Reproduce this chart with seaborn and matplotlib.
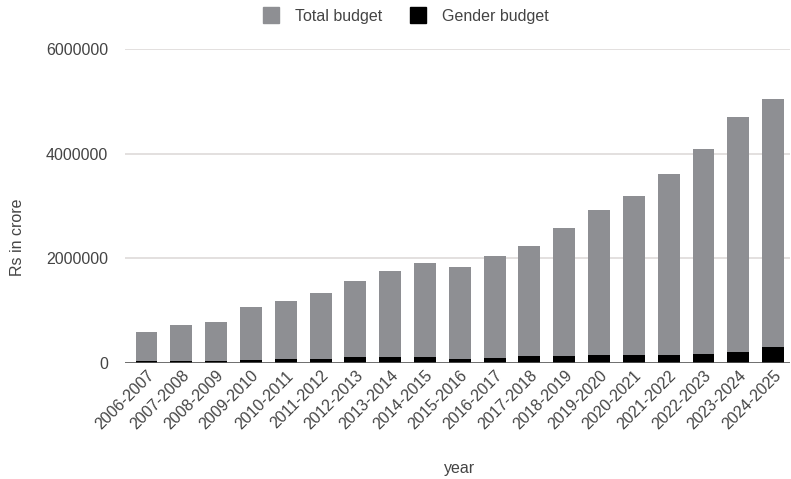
import matplotlib
matplotlib.use("Agg")
import matplotlib.pyplot as plt
from matplotlib.lines import Line2D
import seaborn as sns
import pandas as pd

# Financial years
years = ["2006-2007", "2007-2008", "2008-2009", "2009-2010", "2010-2011",
         "2011-2012", "2012-2013", "2013-2014", "2014-2015", "2015-2016",
         "2016-2017", "2017-2018", "2018-2019", "2019-2020", "2020-2021",
         "2021-2022", "2022-2023", "2023-2024", "2024-2025"]

# Union budget totals (Rs in crore)
total_budget = [578000, 712000, 769000, 1056000, 1171000, 1324000, 1566000,
                1757000, 1899000, 1834000, 2044000, 2235000, 2568000,
                2919000, 3187000, 3608000, 4092000, 4704000, 5056000]

# Gender budget allocations (Rs in crore)
gender_budget = [29000, 38000, 28000, 40000, 64000, 66000, 96000, 96000,
                 96000, 63000, 90000, 134000, 130000, 153000, 150000,
                 135000, 160000, 210000, 290000]

y_ticks = [0, 2000000, 4000000, 6000000]

GREY = "#8e8f93"
TEXT = "#444444"

sns.set_theme(style="white")
plt.rcParams["font.family"] = ["Liberation Sans", "DejaVu Sans"]
plt.rcParams["font.size"] = 11.5

df = pd.DataFrame({"year": years, "total": total_budget, "gender": gender_budget})

fig = plt.figure(figsize=(7.91, 4.79), dpi=100)
ax = fig.add_axes([0.158, 0.2432, 0.841, 0.6538])

sns.barplot(data=df, x="year", y="total", color=GREY, width=0.63,
            saturation=1, linewidth=0, ax=ax, zorder=2)
sns.barplot(data=df, x="year", y="gender", color="black", width=0.63,
            saturation=1, linewidth=0, ax=ax, zorder=3)

ax.set_xlim(-0.618, 18.49)
ax.set_ylim(0, 6000000)
ax.set_yticks(y_ticks)
ax.set_yticklabels([str(v) for v in y_ticks], color=TEXT, fontsize=11.5)
ax.tick_params(axis="y", length=0, pad=12)
ax.tick_params(axis="x", length=0, pad=4)
for lbl in ax.get_xticklabels():
    lbl.set_rotation(45)
    lbl.set_ha("right")
    lbl.set_rotation_mode("anchor")
    lbl.set_color(TEXT)
    lbl.set_fontsize(11.5)

for v in y_ticks[1:]:
    ax.axhline(v, color="#dedad9", linewidth=1.2, zorder=1)
ax.axhline(0, color="#555555", linewidth=1.2, zorder=4)

for s in ax.spines.values():
    s.set_visible(False)

ax.set_xlabel("")
ax.set_ylabel("")
fig.text(460 / 791, 1 - 468 / 479, "year", ha="center", va="center",
         color=TEXT, fontsize=11.5)
fig.text(18 / 791, 1 - 237 / 479, "Rs in crore", ha="center", va="center",
         rotation=90, color=TEXT, fontsize=11.5)

handles = [
    Line2D([], [], marker="s", linestyle="none", markersize=11.5,
           markerfacecolor=GREY, markeredgecolor=GREY),
    Line2D([], [], marker="s", linestyle="none", markersize=11.5,
           markerfacecolor="black", markeredgecolor="black"),
]
fig.legend(handles, ["Total budget", "Gender budget"], loc="center",
           bbox_to_anchor=(402 / 791, 1 - 16 / 479), ncol=2, frameon=False,
           handletextpad=0.5, columnspacing=1.2, labelcolor=TEXT,
           fontsize=11.5)

fig.savefig("out.png", dpi=100)
